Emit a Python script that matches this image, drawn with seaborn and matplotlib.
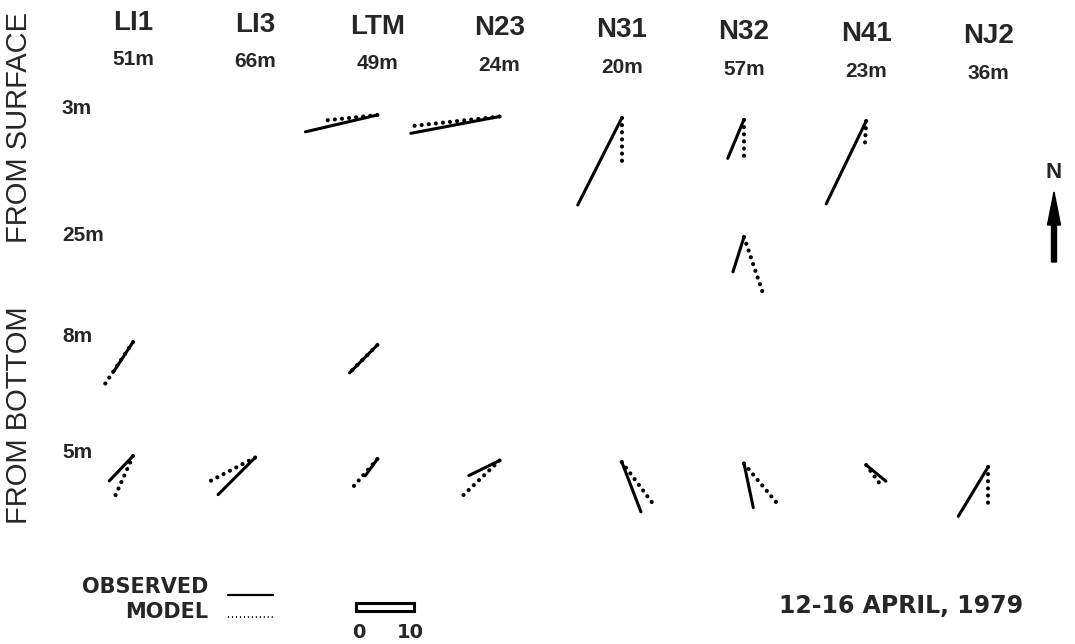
import numpy as np
import pandas as pd
import matplotlib
matplotlib.use("Agg")
import matplotlib.pyplot as plt
import matplotlib.patches as mpatches
import seaborn as sns

# Stations and their water depths
stations = ["LI1", "LI3", "LTM", "N23", "N31", "N32", "N41", "NJ2"]
depths = ["51m", "66m", "49m", "24m", "20m", "57m", "23m", "36m"]

# Measurement levels (rows)
levels = ["3m", "25m", "8m", "5m"]

# Mean current components (cm/s, east / north), NaN where no meter
obs_u = {
    "3m":  [np.nan, np.nan, -12.4, -15.3, -7.6, -2.8, -6.9, np.nan],
    "25m": [np.nan, np.nan, np.nan, np.nan, np.nan, -1.9, np.nan, np.nan],
    "8m":  [-3.4, np.nan, -4.8, np.nan, np.nan, np.nan, np.nan, np.nan],
    "5m":  [-4.1, -6.4, -2.1, -5.3, 3.3, 1.6, 3.4, -5.2],
}
obs_v = {
    "3m":  [np.nan, np.nan, -2.9, -2.9, -15.0, -6.7, -14.3, np.nan],
    "25m": [np.nan, np.nan, np.nan, np.nan, np.nan, -6.0, np.nan, np.nan],
    "8m":  [-5.2, np.nan, -4.8, np.nan, np.nan, np.nan, np.nan, np.nan],
    "5m":  [-4.3, -6.4, -2.9, -2.6, -8.6, -7.6, -2.8, -8.6],
}
mod_u = {
    "3m":  [np.nan, np.nan, -8.6, -14.7, 0.0, 0.0, -0.2, np.nan],
    "25m": [np.nan, np.nan, np.nan, np.nan, np.nan, 3.3, np.nan, np.nan],
    "8m":  [-5.2, np.nan, -4.5, np.nan, np.nan, np.nan, np.nan, np.nan],
    "5m":  [-3.3, -8.6, -4.1, -6.7, 5.3, 5.9, 2.4, 0.0],
}
mod_v = {
    "3m":  [np.nan, np.nan, -0.9, -1.6, -8.4, -7.2, -3.8, np.nan],
    "25m": [np.nan, np.nan, np.nan, np.nan, np.nan, -9.8, np.nan, np.nan],
    "8m":  [-7.8, np.nan, -4.5, np.nan, np.nan, np.nan, np.nan, np.nan],
    "5m":  [-7.4, -4.5, -4.7, -6.4, -7.1, -7.1, -3.3, -6.7],
}

# layout (figure pixels)
W, H = 1075, 644
px_per_unit = 5.8          # 10 cm/s ~ 58 px
col_x0, col_dx = 133, 122.2
tilt = 1.5                 # slight rotation of the scanned page
row_y = {"3m": 112, "25m": 229.5, "8m": 342, "5m": 456}


def build_segments(us, vs, kind):
    rows = []
    seg = 0
    for lev in levels:
        for i in range(len(stations)):
            u, v = us[lev][i], vs[lev][i]
            if np.isnan(u):
                continue
            x0 = col_x0 + col_dx * i
            y0 = row_y[lev] + tilt * i
            rows.append((f"{kind}{seg}", x0, y0))
            rows.append((f"{kind}{seg}", x0 + u * px_per_unit, y0 - v * px_per_unit))
            seg += 1
    return pd.DataFrame(rows, columns=["seg", "x", "y"])


obs_df = build_segments(obs_u, obs_v, "obs")
mod_df = build_segments(mod_u, mod_v, "mod")

sns.set_style("white")
plt.rcParams["font.family"] = ["Liberation Sans", "DejaVu Sans"]

fig = plt.figure(figsize=(W / 100, H / 100), dpi=100)
ax = fig.add_axes([0, 0, 1, 1])
ax.set_xlim(0, W)
ax.set_ylim(H, 0)
ax.axis("off")

sns.lineplot(data=obs_df, x="x", y="y", units="seg", estimator=None, sort=False,
             color="black", linewidth=2.2, legend=False, ax=ax)
n_obs = len(ax.lines)
sns.lineplot(data=mod_df, x="x", y="y", units="seg", estimator=None, sort=False,
             color="black", linewidth=3.0, legend=False, ax=ax)
for ln in ax.lines[n_obs:]:
    ln.set_linestyle((0, (0.01, 1.7)))
    ln.set_dash_capstyle("round")
for ln in ax.lines[:n_obs]:
    ln.set_solid_capstyle("round")

# headers
for i, (s, d) in enumerate(zip(stations, depths)):
    x = col_x0 + col_dx * i
    ax.text(x, 23 + 1.8 * i, s, ha="center", va="center", fontsize=20,
            fontweight="bold")
    ax.text(x, 59 + 2.0 * i, d, ha="center", va="center", fontsize=15,
            fontweight="bold")

# row labels
label_y = {"3m": 108, "25m": 235, "8m": 336, "5m": 452}
for lev in levels:
    ax.text(62, label_y[lev], lev, ha="left", va="center", fontsize=15,
            fontweight="bold")

ax.text(19, 127, "FROM SURFACE", rotation=90, ha="center", va="center", fontsize=21)
ax.text(19, 415, "FROM BOTTOM", rotation=90, ha="center", va="center", fontsize=21)

# legend
wide = ["DejaVu Sans"]
ax.text(208, 587, "OBSERVED", ha="right", va="center", fontsize=15,
        family=wide, fontweight="bold")
ax.text(208, 612, "MODEL", ha="right", va="center", fontsize=15,
        family=wide, fontweight="bold")
ax.plot([228, 273], [595, 595], color="black", lw=1.6)
ax.plot([228, 273], [617, 617], color="black", lw=1.3, ls=(0, (0.6, 1.6)))

# scale bar 0-10 cm/s
bar_x0 = 356
ax.add_patch(mpatches.Rectangle((bar_x0, 603), 10 * px_per_unit, 8,
                                facecolor="white", edgecolor="black", lw=2.2))
ax.text(bar_x0 + 3, 632, "0", ha="center", va="center", fontsize=14,
        family=wide, fontweight="bold")
ax.text(bar_x0 + 10 * px_per_unit - 4, 632, "10", ha="center", va="center",
        fontsize=14, family=wide, fontweight="bold")

ax.text(901, 606, "12-16 APRIL, 1979", ha="center", va="center", fontsize=17,
        family=wide, fontweight="bold")

# north arrow
ax.text(1054, 172, "N", ha="center", va="center", fontsize=16, fontweight="bold")
ax.add_patch(mpatches.FancyArrow(1054, 262, 0, -70, width=5, head_width=13,
                                 head_length=33, length_includes_head=True,
                                 color="black"))

fig.savefig("out.png", dpi=100)
